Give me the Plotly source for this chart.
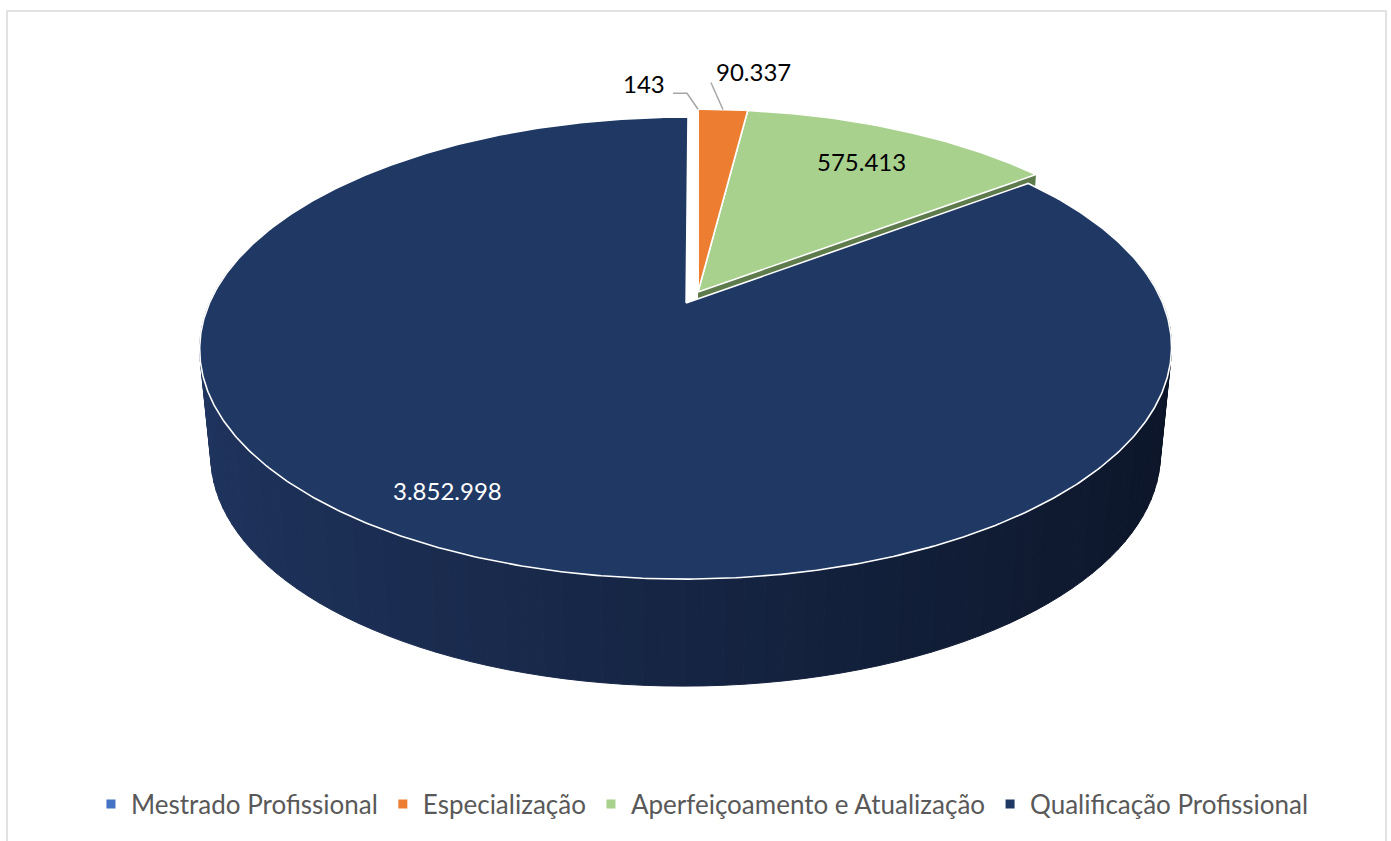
import numpy as np
import plotly.graph_objects as go

# ---------------- data ----------------
categories = ["Mestrado Profissional", "Especialização",
              "Aperfeiçoamento e Atualização", "Qualificação Profissional"]
values = [143, 90337, 575413, 3852998]
value_labels = ["143", "90.337", "575.413", "3.852.998"]
colors = ["#4472C4", "#ED7D31", "#A9D18E", "#1F3864"]

# ---------------- geometry / style (pixel space) ----------------
W, H = 1391, 841
CX, CY = 698, 292          # pie centre on screen
RX, RY = 472, 218          # radii of top face
K = 0.193                  # perspective factor
DEPTH = 107                # thickness of the pie
G = 0.977                  # bottom face horizontal shrink
EXPLODE = [0, 0, 0, 0.056]
SIDE_LIGHT = np.array([31, 52, 94])
SIDE_DARK = np.array([12, 21, 40])
GREEN_CUT = "#5E7B4C"
FONT = "Lato, 'Open Sans', sans-serif"


def proj(u, v):
    s = 1.0 / (1.0 + K * v)
    return CX + RX * u * s, CY - RY * v * s


vals = np.array(values, dtype=float)
frac = vals / vals.sum()
ends = np.cumsum(frac) * 360.0
starts = ends - frac * 360.0
mids = (starts + ends) / 2.0


def offset(i):
    m = np.radians(mids[i])
    return EXPLODE[i] * np.sin(m), EXPLODE[i] * np.cos(m)


def rim(i, deg, r=1.0):
    du, dv = offset(i)
    t = np.radians(deg)
    return proj(r * np.sin(t) + du, r * np.cos(t) + dv)


def centre(i):
    du, dv = offset(i)
    return proj(du, dv)


def bottom(i, x, y):
    cx, _ = centre(i)
    return cx + G * (x - cx), y + DEPTH


fig = go.Figure()


def poly(xs, ys, fill, line_color=None, line_width=0.0):
    fig.add_trace(go.Scatter(
        x=list(xs) + [xs[0]], y=list(ys) + [ys[0]], mode="lines",
        fill="toself", fillcolor=fill,
        line=dict(color=line_color or fill, width=line_width),
        hoverinfo="skip", showlegend=False))


# --- side wall of the big (exploded) slice, shaded strips ---
q = 3
a0, a1 = max(starts[q], 80.0), min(ends[q], 280.0)
angles = np.linspace(a0, a1, 101)
for t1, t2 in zip(angles[:-1], angles[1:]):
    x1, y1 = rim(q, t1)
    x2, y2 = rim(q, t2)
    bx1, by1 = bottom(q, x1, y1)
    bx2, by2 = bottom(q, x2, y2)
    tm = np.radians((t1 + t2) / 2)
    f = (np.sin(tm) + 1) / 2
    c = SIDE_LIGHT + (SIDE_DARK - SIDE_LIGHT) * f
    col = "rgb(%d,%d,%d)" % tuple(np.round(c).astype(int))
    poly([x1, x2, bx2, bx1], [y1, y2, by2, by1], col, col, 1.0)

# --- cut face of the green slice (visible sliver) ---
g = 2
cx, cy = centre(g)
rx_, ry_ = rim(g, ends[g])
bcx, bcy = bottom(g, cx, cy)
brx, bry = bottom(g, rx_, ry_)
poly([cx, rx_, brx, bcx], [cy, ry_, bry, bcy], GREEN_CUT)

# --- top faces ---
for i in [2, 1, 0, 3]:
    n = max(3, int((ends[i] - starts[i]) / 0.5))
    th = np.linspace(starts[i], ends[i], n)
    pts = [rim(i, t) for t in th]
    cx, cy = centre(i)
    xs = [cx] + [p[0] for p in pts]
    ys = [cy] + [p[1] for p in pts]
    poly(xs, ys, colors[i], "white", 1.6)

# --- data labels ---
inside = {2: (0.78, 0.0, "black"), 3: (0.84, 4.0, "white")}
for i, (r, dth, col) in inside.items():
    x, y = rim(i, mids[i] + dth, r)
    fig.add_annotation(x=x, y=y, text=value_labels[i], showarrow=False,
                       font=dict(family=FONT, size=24, color=col))

# outside labels with leader lines
outside = {0: dict(elbow=(-11, -16), end=(-25, -16), anchor="right", txt=(-31, -26)),
           1: dict(elbow=None, end=(-12, -27), anchor="left", txt=(-9, -38))}
for i, o in outside.items():
    ax, ay = rim(i, mids[i])
    lx = [ax]
    ly = [ay]
    if o["elbow"]:
        lx.append(ax + o["elbow"][0]); ly.append(ay + o["elbow"][1])
    lx.append(ax + o["end"][0]); ly.append(ay + o["end"][1])
    fig.add_trace(go.Scatter(x=lx, y=ly, mode="lines",
                             line=dict(color="#A6A6A6", width=1.5),
                             hoverinfo="skip", showlegend=False))
    fig.add_annotation(x=ax + o["txt"][0], y=ay + o["txt"][1], text=value_labels[i],
                       showarrow=False, xanchor=o["anchor"], yanchor="middle",
                       font=dict(family=FONT, size=24, color="black"))

# --- legend entries ---
for name, col in zip(categories, colors):
    fig.add_trace(go.Scatter(x=[None], y=[None], mode="markers", name=name,
                             marker=dict(symbol="square", size=9, color=col)))

fig.add_shape(type="rect", x0=7, y0=11, x1=1386, y1=880,
              line=dict(color="#D9D9D9", width=1.5), layer="below")

fig.update_layout(
    width=W, height=H,
    margin=dict(l=0, r=0, t=0, b=0),
    paper_bgcolor="white", plot_bgcolor="white",
    xaxis=dict(range=[0, W], visible=False, fixedrange=True),
    yaxis=dict(range=[H, 0], visible=False, fixedrange=True),
    showlegend=True,
    legend=dict(orientation="h", x=0.505, xanchor="center", y=1 - 804 / H,
                yanchor="middle", font=dict(family=FONT, size=26, color="#595959"),
                itemwidth=30, bgcolor="rgba(0,0,0,0)"),
)

fig.write_html("out.html", config={"displayModeBar": False},
               post_script="document.body.style.margin='0';document.body.style.overflow='hidden';")
